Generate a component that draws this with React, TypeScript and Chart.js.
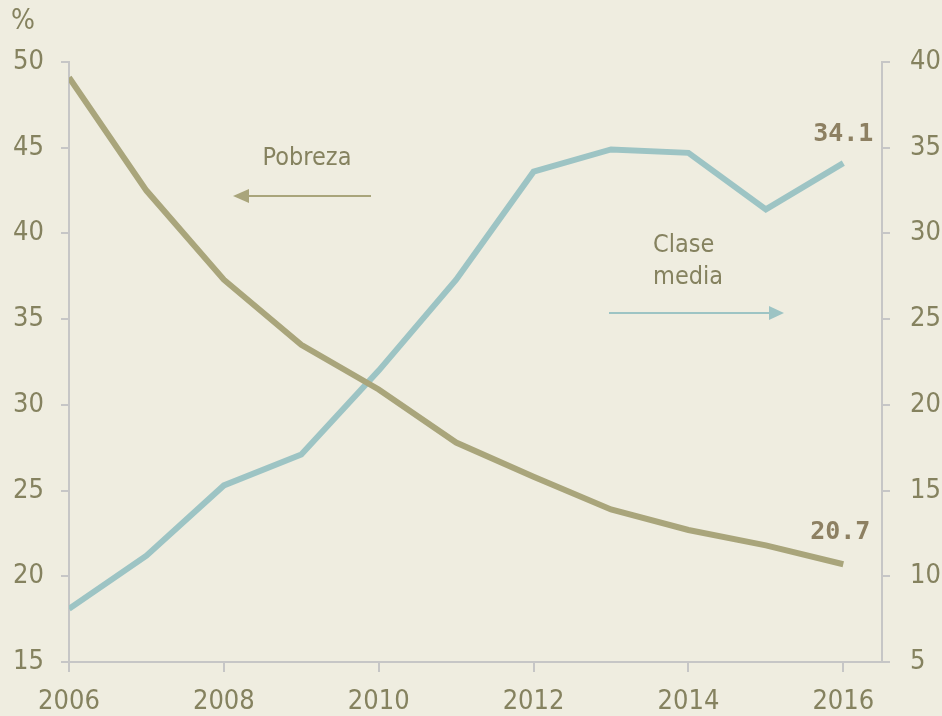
import React, { useEffect, useRef } from "react";
import { Chart, registerables } from "chart.js";

Chart.register(...registerables);

const years = [2006, 2007, 2008, 2009, 2010, 2011, 2012, 2013, 2014, 2015, 2016];
const pobreza = [49.1, 42.5, 37.3, 33.5, 30.9, 27.8, 25.8, 23.9, 22.7, 21.8, 20.7];
const claseMedia = [8.1, 11.2, 15.3, 17.1, 22.0, 27.3, 33.6, 34.9, 34.7, 31.4, 34.1];
const leftTicks = [15, 50];
const rightTicks = [5, 40];
const xRange = [2006, 2016.5];
const endLabels = ["20.7", "34.1"];

const BG = "#efede0";
const TEXT = "#85825f";
const KHAKI = "#a9a57b";
const TEAL = "#9dc4c4";
const GRID = "#c6c6c6";
const FONT = "'DejaVu Sans Condensed', 'Open Sans', sans-serif";

const annotPlugin = {
  id: "annot",
  afterDatasetsDraw(chart: any) {
    const { ctx, chartArea } = chart;
    const L = chartArea.left;
    const T = chartArea.top;
    ctx.save();
    ctx.fillStyle = TEXT;
    ctx.font = `28px ${FONT}`;
    ctx.textAlign = "left";
    ctx.textBaseline = "middle";
    ctx.fillText("%", 11, 22);

    ctx.font = `25px ${FONT}`;
    ctx.textAlign = "center";
    ctx.fillText("Pobreza", L + 238, T + 96);
    ctx.textAlign = "left";
    ctx.fillText("Clase", L + 584, T + 183);
    ctx.fillText("media", L + 584, T + 215);

    // left arrow
    ctx.strokeStyle = KHAKI;
    ctx.fillStyle = KHAKI;
    ctx.lineWidth = 2;
    ctx.beginPath();
    ctx.moveTo(L + 302, T + 134);
    ctx.lineTo(L + 178, T + 134);
    ctx.stroke();
    ctx.beginPath();
    ctx.moveTo(L + 164, T + 134);
    ctx.lineTo(L + 180, T + 127);
    ctx.lineTo(L + 180, T + 141);
    ctx.closePath();
    ctx.fill();

    // right arrow
    ctx.strokeStyle = TEAL;
    ctx.fillStyle = TEAL;
    ctx.beginPath();
    ctx.moveTo(L + 540, T + 251);
    ctx.lineTo(L + 702, T + 251);
    ctx.stroke();
    ctx.beginPath();
    ctx.moveTo(L + 715, T + 251);
    ctx.lineTo(L + 700, T + 244);
    ctx.lineTo(L + 700, T + 258);
    ctx.closePath();
    ctx.fill();

    // end labels
    ctx.font = `bold 25px 'DejaVu Sans Mono', monospace`;
    ctx.fillStyle = "#8d8062";
    ctx.textAlign = "center";
    ctx.textBaseline = "middle";
    const p = chart.getDatasetMeta(0).data[pobreza.length - 1];
    const c = chart.getDatasetMeta(1).data[claseMedia.length - 1];
    ctx.fillText(endLabels[0], p.x - 3, p.y - 32);
    ctx.fillText(endLabels[1], c.x, c.y - 29);
    ctx.restore();
  },
};

export default function App() {
  const ref = useRef<HTMLCanvasElement>(null);
  useEffect(() => {
    document.body.style.margin = "0";
    document.body.style.background = BG;
    const chart = new Chart(ref.current!, {
      type: "line",
      data: {
        datasets: [
          {
            label: "Pobreza",
            data: years.map((y, i) => ({ x: y, y: pobreza[i] })),
            borderColor: KHAKI,
            borderWidth: 6,
            pointRadius: 0,
            tension: 0,
            yAxisID: "y",
          },
          {
            label: "Clase media",
            data: years.map((y, i) => ({ x: y, y: claseMedia[i] })),
            borderColor: TEAL,
            borderWidth: 6,
            pointRadius: 0,
            tension: 0,
            yAxisID: "y1",
          },
        ],
      },
      options: {
        animation: false,
        responsive: false,
        layout: { padding: { top: 62, left: 0, right: 0, bottom: 0 } },
        plugins: { legend: { display: false }, tooltip: { enabled: false } },
        scales: {
          x: {
            type: "linear",
            min: xRange[0],
            max: xRange[1],
            afterFit: (s: any) => { s.height = 54; },
            ticks: {
              stepSize: 2,
              includeBounds: false,
              color: TEXT,
              font: { family: FONT, size: 27 },
              padding: 14,
              callback: (v: any) => String(v),
              maxRotation: 0,
            },
            grid: { drawOnChartArea: false, color: GRID, lineWidth: 2, tickLength: 10 },
            border: { color: GRID, width: 2 },
          },
          y: {
            position: "left",
            min: leftTicks[0],
            max: leftTicks[1],
            afterFit: (s: any) => { s.width = 69; },
            ticks: { stepSize: 5, color: TEXT, font: { family: FONT, size: 27 }, padding: 17 },
            grid: { drawOnChartArea: false, color: GRID, lineWidth: 2, tickLength: 8 },
            border: { color: GRID, width: 2 },
          },
          y1: {
            position: "right",
            min: rightTicks[0],
            max: rightTicks[1],
            afterFit: (s: any) => { s.width = 60; },
            ticks: { stepSize: 5, color: TEXT, font: { family: FONT, size: 27 }, padding: 20 },
            grid: { drawOnChartArea: false, color: GRID, lineWidth: 2, tickLength: 8 },
            border: { color: GRID, width: 2 },
          },
        },
      },
      plugins: [annotPlugin],
    });
    return () => chart.destroy();
  }, []);
  return (
    <div style={{ width: 942, height: 716, background: BG }}>
      <canvas ref={ref} width={942} height={716} style={{ display: "block" }} />
    </div>
  );
}
